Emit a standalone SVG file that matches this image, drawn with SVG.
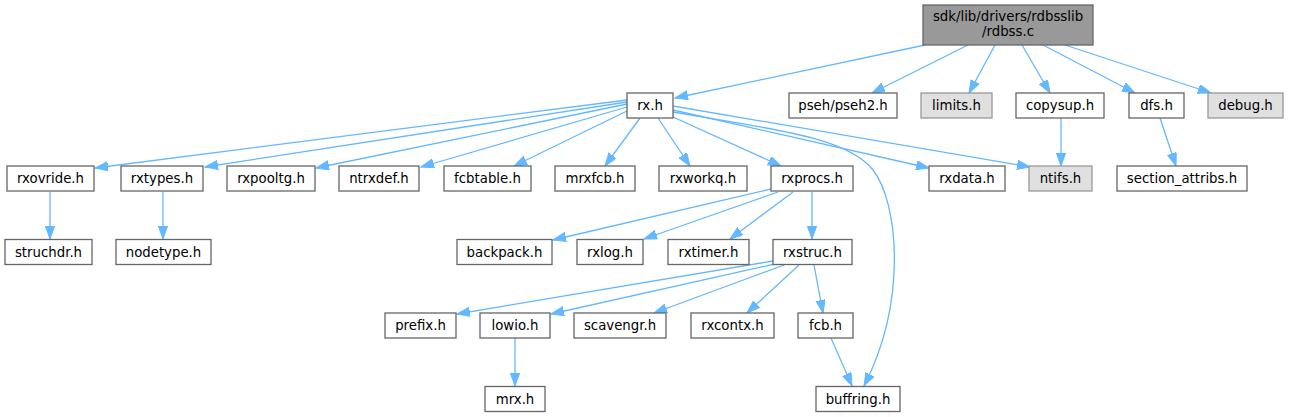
<svg xmlns="http://www.w3.org/2000/svg" width="1289" height="417" viewBox="0 0 1289 417">
<style>
.node rect{fill:#ffffff;stroke:#666666;stroke-width:1.3}
.node.gray rect{fill:#e0e0e0;stroke:#999999}
.node.root rect{fill:#999999;stroke:#666666}
.node text{font-family:"DejaVu Sans","Liberation Sans",sans-serif;font-size:13.3px;fill:#000000;text-anchor:middle}
#edges path{fill:none;stroke:#63b8ff;stroke-width:1.3;marker-end:url(#ah)}
</style>
<defs>
<marker id="ah" markerUnits="userSpaceOnUse" markerWidth="14" markerHeight="10" refX="13" refY="4.65" orient="auto"><path d="M0,0 L13,4.65 L0,9.3 z" fill="#63b8ff" stroke="#63b8ff" stroke-width="1"/></marker>
</defs>
<rect width="1289" height="417" fill="#ffffff"/>
<g id="edges">
<path d="M925,45 L675,98"/>
<path d="M968,45 L872,93"/>
<path d="M995,45 L969,93"/>
<path d="M1022,45 L1050,93"/>
<path d="M1043,45 L1135,93"/>
<path d="M1065,45 L1211,93"/>
<path d="M627,100 L95,168"/>
<path d="M627,102 L205,167"/>
<path d="M627,104 L316,168"/>
<path d="M627,107 L421,167"/>
<path d="M627,111 L514,166"/>
<path d="M640,118 L605,166"/>
<path d="M658,118 L690,166"/>
<path d="M673,117 L781,166"/>
<path d="M673,110 L929,168"/>
<path d="M673,106 L1030,167"/>
<path d="M673,112 C780,130 848,138 873,170 C898,202 908,300 864,386"/>
<path d="M1061,118 L1061,166"/>
<path d="M1160,118 L1176,166"/>
<path d="M50,192 L50,239"/>
<path d="M163,192 L163,239"/>
<path d="M771,189 L553,240"/>
<path d="M778,192 L644,239"/>
<path d="M793,192 L730,239"/>
<path d="M812,192 L812,239"/>
<path d="M773,261 L457,314"/>
<path d="M775,264 L551,314"/>
<path d="M784,265 L654,313"/>
<path d="M799,265 L747,313"/>
<path d="M814,265 L823,313"/>
<path d="M515,338 L515,386"/>
<path d="M831,338 L852,386"/>
</g>
<g id="node-root" class="node root"><rect x="923" y="5" width="170" height="40"/><text x="1008" y="21">sdk/lib/drivers/rdbsslib</text><text x="1008" y="36">/rdbss.c</text></g>
<g id="node-rx" class="node"><rect x="627" y="93" width="46" height="25"/><text x="650" y="110">rx.h</text></g>
<g id="node-pseh" class="node"><rect x="789" y="93" width="108" height="25"/><text x="843" y="110">pseh/pseh2.h</text></g>
<g id="node-limits" class="node gray"><rect x="921" y="93" width="71" height="25"/><text x="956.5" y="110">limits.h</text></g>
<g id="node-copysup" class="node"><rect x="1016" y="93" width="88" height="25"/><text x="1060" y="110">copysup.h</text></g>
<g id="node-dfs" class="node"><rect x="1129" y="93" width="55" height="25"/><text x="1156.5" y="110">dfs.h</text></g>
<g id="node-debug" class="node gray"><rect x="1208" y="93" width="75" height="25"/><text x="1245.5" y="110">debug.h</text></g>
<g id="node-rxovride" class="node"><rect x="7" y="166" width="87" height="25"/><text x="50.5" y="183">rxovride.h</text></g>
<g id="node-rxtypes" class="node"><rect x="121" y="166" width="82" height="25"/><text x="162" y="183">rxtypes.h</text></g>
<g id="node-rxpooltg" class="node"><rect x="227" y="166" width="88" height="25"/><text x="271" y="183">rxpooltg.h</text></g>
<g id="node-ntrxdef" class="node"><rect x="339" y="166" width="80" height="25"/><text x="379" y="183">ntrxdef.h</text></g>
<g id="node-fcbtable" class="node"><rect x="444" y="166" width="87" height="25"/><text x="487.5" y="183">fcbtable.h</text></g>
<g id="node-mrxfcb" class="node"><rect x="555" y="166" width="80" height="25"/><text x="595" y="183">mrxfcb.h</text></g>
<g id="node-rxworkq" class="node"><rect x="659" y="166" width="88" height="25"/><text x="703" y="183">rxworkq.h</text></g>
<g id="node-rxprocs" class="node"><rect x="771" y="166" width="82" height="25"/><text x="812" y="183">rxprocs.h</text></g>
<g id="node-rxdata" class="node"><rect x="929" y="166" width="76" height="25"/><text x="967" y="183">rxdata.h</text></g>
<g id="node-ntifs" class="node gray"><rect x="1029" y="166" width="63" height="25"/><text x="1060.5" y="183">ntifs.h</text></g>
<g id="node-section_attribs" class="node"><rect x="1117" y="166" width="130" height="25"/><text x="1182" y="183">section_attribs.h</text></g>
<g id="node-struchdr" class="node"><rect x="5" y="239.5" width="87" height="25"/><text x="48.5" y="256.5">struchdr.h</text></g>
<g id="node-nodetype" class="node"><rect x="116" y="239.5" width="95" height="25"/><text x="163.5" y="256.5">nodetype.h</text></g>
<g id="node-backpack" class="node"><rect x="457" y="239.5" width="95" height="25"/><text x="504.5" y="256.5">backpack.h</text></g>
<g id="node-rxlog" class="node"><rect x="577" y="239.5" width="66" height="25"/><text x="610" y="256.5">rxlog.h</text></g>
<g id="node-rxtimer" class="node"><rect x="668" y="239.5" width="81" height="25"/><text x="708.5" y="256.5">rxtimer.h</text></g>
<g id="node-rxstruc" class="node"><rect x="773" y="239.5" width="79" height="25"/><text x="812.5" y="256.5">rxstruc.h</text></g>
<g id="node-prefix" class="node"><rect x="385" y="313" width="71" height="25"/><text x="420.5" y="330">prefix.h</text></g>
<g id="node-lowio" class="node"><rect x="480" y="313" width="70" height="25"/><text x="515" y="330">lowio.h</text></g>
<g id="node-scavengr" class="node"><rect x="574" y="313" width="92" height="25"/><text x="620" y="330">scavengr.h</text></g>
<g id="node-rxcontx" class="node"><rect x="691" y="313" width="83" height="25"/><text x="732.5" y="330">rxcontx.h</text></g>
<g id="node-fcb" class="node"><rect x="798" y="313" width="55" height="25"/><text x="825.5" y="330">fcb.h</text></g>
<g id="node-mrx" class="node"><rect x="485" y="386.5" width="60" height="25"/><text x="515" y="403.5">mrx.h</text></g>
<g id="node-buffring" class="node"><rect x="816" y="386.5" width="84" height="25"/><text x="858" y="403.5">buffring.h</text></g>
</svg>
